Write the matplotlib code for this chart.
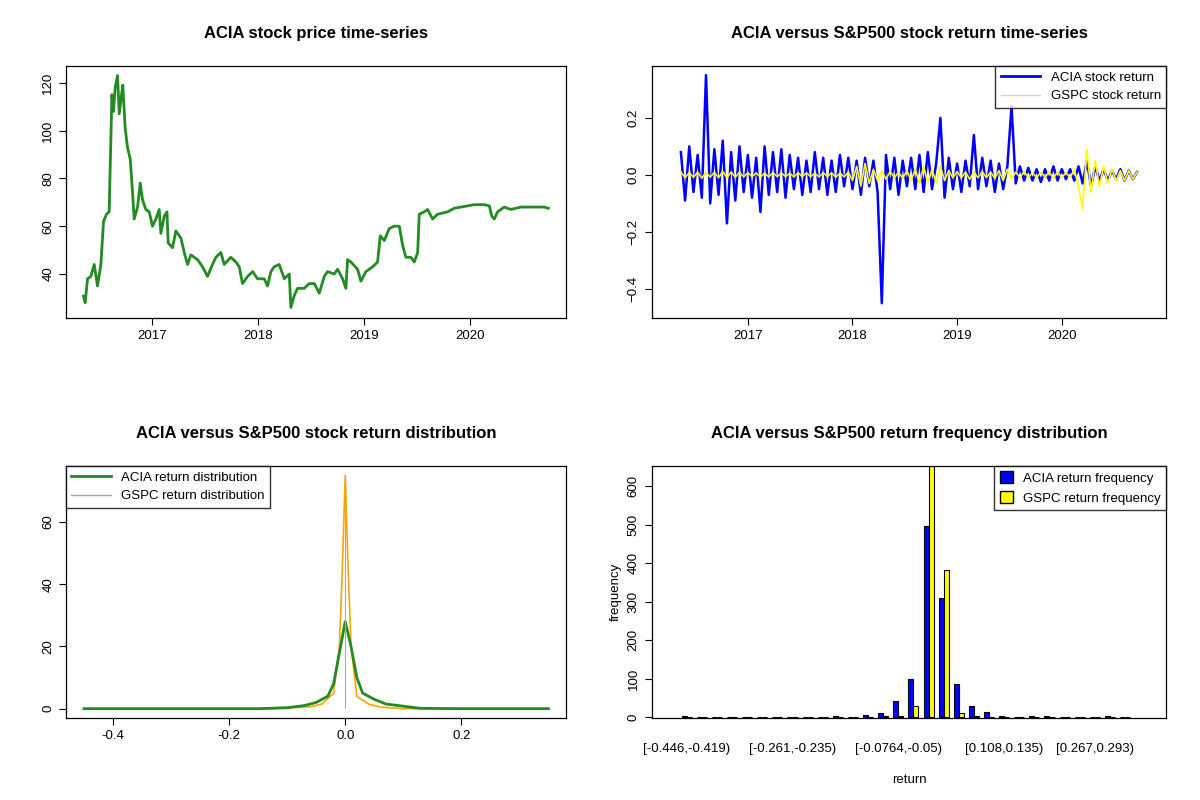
import numpy as np
import matplotlib
matplotlib.use("Agg")
import matplotlib.pyplot as plt
from matplotlib.lines import Line2D
from matplotlib.patches import Patch

plt.rcParams["font.family"] = ["Liberation Sans", "DejaVu Sans"]

# ---- price series (decimal year, price) ----
price_t = [2016.355, 2016.371, 2016.393, 2016.424, 2016.456, 2016.487, 2016.519, 2016.544,
           2016.572, 2016.597, 2016.613, 2016.623, 2016.638, 2016.654, 2016.676, 2016.692,
           2016.714, 2016.726, 2016.748, 2016.770, 2016.796, 2016.818, 2016.833, 2016.865,
           2016.890, 2016.912, 2016.943, 2016.975, 2017.006, 2017.038, 2017.069, 2017.085,
           2017.116, 2017.142, 2017.154, 2017.195, 2017.226, 2017.274, 2017.311, 2017.337,
           2017.368, 2017.431, 2017.478, 2017.525, 2017.572, 2017.604, 2017.651, 2017.682,
           2017.745, 2017.793, 2017.824, 2017.855, 2017.903, 2017.950, 2017.997, 2018.060,
           2018.091, 2018.123, 2018.154, 2018.201, 2018.249, 2018.296, 2018.311, 2018.343,
           2018.374, 2018.437, 2018.484, 2018.532, 2018.579, 2018.626, 2018.657, 2018.720,
           2018.752, 2018.799, 2018.830, 2018.846, 2018.878, 2018.940, 2018.972, 2019.019,
           2019.082, 2019.129, 2019.154, 2019.192, 2019.239, 2019.286, 2019.334, 2019.365,
           2019.396, 2019.444, 2019.475, 2019.507, 2019.522, 2019.569, 2019.601, 2019.648,
           2019.695, 2019.790, 2019.852, 2019.915, 2020.041, 2020.136, 2020.183, 2020.208,
           2020.230, 2020.261, 2020.324, 2020.387, 2020.481, 2020.607, 2020.702, 2020.739]
price_v = [30.7, 28, 38, 39, 44, 35, 44, 62, 65, 66, 96, 115, 108, 118, 123, 107,
           115, 119, 101, 93, 88, 74, 63, 68, 78, 71, 67, 66, 60, 63, 67, 57,
           64, 66, 53, 51, 58, 55, 48, 44, 48, 46, 43, 39, 44, 47, 49, 44,
           47, 45, 43, 36, 39, 41, 38, 38, 35, 41, 43, 44, 38, 40, 26, 31,
           34, 34, 36, 36, 32, 39, 41, 40, 42, 38, 34, 46, 45, 42, 37, 41,
           43, 45, 56, 54, 59, 60, 60, 52, 47, 47, 45, 49, 65, 66, 67, 63,
           65, 66, 67.5, 68, 69, 69, 68.5, 64, 63, 66, 68, 67, 68, 68, 68, 67.5]

# ---- returns, sampled about every two weeks from 2016.36 ----
ret_start, ret_step = 2016.36, 0.04
acia_ret = [0.08, -0.09, 0.1, -0.06, 0.07, -0.08, 0.35, -0.1, 0.09, -0.07,
            0.12, -0.17, 0.08, -0.09, 0.1, -0.06, 0.07, -0.08, 0.06, -0.13,
            0.1, -0.07, 0.08, -0.06, 0.09, -0.08, 0.07, -0.05, 0.06, -0.07,
            0.05, -0.06, 0.08, -0.05, 0.06, -0.07, 0.05, -0.06, 0.07, -0.04,
            0.06, -0.05, 0.05, -0.07, 0.06, -0.04, 0.05, -0.06, -0.45, 0.07,
            -0.05, 0.06, -0.07, 0.05, -0.04, 0.06, -0.05, 0.07, -0.06, 0.08,
            -0.05, 0.04, 0.2, -0.08, 0.06, -0.05, 0.04, -0.06, 0.05, -0.04,
            0.14, -0.05, 0.06, -0.04, 0.05, -0.06, 0.04, -0.05, 0.03, 0.24,
            -0.03, 0.03, -0.02, 0.025, -0.02, 0.02, -0.025, 0.02, -0.02, 0.03,
            -0.02, 0.02, -0.015, 0.02, -0.02, 0.03, -0.03, 0.05, -0.04, 0.03,
            -0.02, 0.02, -0.02, 0.015, -0.015, 0.02, -0.02, 0.015, -0.015, 0.01]
gspc_ret = [0.01, -0.01, 0.008, -0.009, 0.01, -0.012, 0.01, -0.008, 0.009, -0.01,
            0.012, -0.01, 0.01, -0.008, 0.009, -0.007, 0.008, -0.006, 0.007, -0.008,
            0.006, -0.007, 0.008, -0.006, 0.007, -0.006, 0.006, -0.007, 0.008, -0.006,
            0.007, -0.006, 0.006, -0.007, 0.008, -0.006, 0.007, -0.008, 0.006, -0.007,
            0.01, -0.02, 0.03, -0.04, 0.04, -0.03, 0.02, -0.02, 0.015, -0.015,
            0.012, -0.01, 0.01, -0.012, 0.015, -0.02, 0.02, -0.03, 0.03, -0.03,
            0.02, -0.03, 0.03, -0.02, 0.015, -0.01, 0.012, -0.01, 0.01, -0.015,
            0.01, -0.01, 0.012, -0.01, 0.01, -0.012, 0.015, -0.02, 0.02, -0.015,
            0.01, -0.01, 0.012, -0.01, 0.008, -0.01, 0.01, -0.008, 0.01, -0.012,
            0.01, -0.01, 0.008, -0.01, 0.02, -0.04, -0.12, 0.09, -0.06, 0.05,
            -0.04, 0.03, -0.03, 0.02, -0.02, 0.015, -0.02, 0.015, -0.015, 0.01]

# ---- densities ----
acia_dx = [-0.45, -0.15, -0.1, -0.07, -0.05, -0.03, -0.02, -0.01, 0, 0.01, 0.02, 0.03, 0.05, 0.07, 0.1, 0.13, 0.2, 0.35]
acia_dy = [0, 0, 0.3, 1, 2, 4, 8, 18, 28, 20, 10, 5, 3, 1.5, 0.8, 0.1, 0, 0]
gspc_dx = [-0.45, -0.13, -0.1, -0.06, -0.04, -0.02, -0.01, -0.005, 0, 0.005, 0.01, 0.02, 0.04, 0.06, 0.1, 0.35]
gspc_dy = [0, 0, 0.3, 0.6, 1.5, 5, 20, 45, 75, 45, 20, 4, 1.5, 0.5, 0, 0]

# ---- histogram counts over 30 bins ----
acia_freq = [2, 0, 0, 0, 0, 0, 0, 0, 0, 0, 2, 0, 5, 10, 42, 100, 495, 308, 85, 28,
             13, 3, 0, 3, 2, 0, 0, 0, 2, 0]
gspc_freq = [0, 0, 0, 0, 0, 0, 0, 0, 0, 0, 0, 0, 0, 2, 3, 28, 700, 383, 10, 2,
             0, 0, 0, 0, 0, 0, 0, 0, 0, 0]
hist_tick_bins = [0, 7, 14, 21, 27]
hist_tick_labels = ["[-0.446,-0.419)", "[-0.261,-0.235)", "[-0.0764,-0.05)",
                    "[0.108,0.135)", "[0.267,0.293)"]

fig = plt.figure(figsize=(12, 8), dpi=100)
ax1 = fig.add_axes([0.055, 0.6025, 0.417, 0.315])
ax2 = fig.add_axes([0.543, 0.6025, 0.429, 0.315])
ax3 = fig.add_axes([0.055, 0.1025, 0.417, 0.315])
ax4 = fig.add_axes([0.543, 0.1025, 0.429, 0.315])


def rstyle(ax):
    ax.tick_params(direction="out", labelsize=9.5, length=5)
    for lab in ax.get_yticklabels():
        lab.set_rotation(90)
        lab.set_va("center")
    for s in ax.spines.values():
        s.set_linewidth(0.9)


# panel 1
ax1.plot(price_t, price_v, color="forestgreen", lw=2)
ax1.set_xlim(2016.19, 2020.91)
ax1.set_ylim(21.6, 127)
ax1.set_xticks([2017, 2018, 2019, 2020])
ax1.set_yticks([40, 60, 80, 100, 120])
ax1.set_title("ACIA stock price time-series", fontweight="bold", fontsize=12, pad=20)
rstyle(ax1)

# panel 2
ret_t = ret_start + ret_step * np.arange(len(acia_ret))
ax2.plot(ret_t, acia_ret, color="blue", lw=1.8)
ax2.plot(ret_t, gspc_ret, color="yellow", lw=1.2)
ax2.set_xlim(2016.08, 2021.0)
ax2.set_ylim(-0.502, 0.382)
ax2.set_xticks([2017, 2018, 2019, 2020])
ax2.set_yticks([-0.4, -0.2, 0.0, 0.2])
ax2.set_title("ACIA versus S&P500 stock return time-series", fontweight="bold", fontsize=12, pad=20)
ax2.legend([Line2D([], [], color="blue", lw=2), Line2D([], [], color="lightgrey", lw=1)],
           ["ACIA stock return", "GSPC stock return"], loc="upper right", fancybox=False,
           edgecolor="black", fontsize=9.5, borderaxespad=0, handlelength=3)
rstyle(ax2)

# panel 3
ax3.plot(gspc_dx, gspc_dy, color="orange", lw=1.2)
ax3.plot(acia_dx, acia_dy, color="forestgreen", lw=2)
ax3.axvline(0, ymin=0.04, ymax=0.96, color="darkgrey", lw=0.8)
ax3.set_xlim(-0.481, 0.381)
ax3.set_ylim(-3, 78)
ax3.set_xticks([-0.4, -0.2, 0.0, 0.2])
ax3.set_xticklabels(["-0.4", "-0.2", "0.0", "0.2"])
ax3.set_yticks([0, 20, 40, 60])
ax3.set_title("ACIA versus S&P500 stock return distribution", fontweight="bold", fontsize=12, pad=20)
ax3.legend([Line2D([], [], color="forestgreen", lw=2), Line2D([], [], color="darkgrey", lw=1)],
           ["ACIA return distribution", "GSPC return distribution"], loc="upper left", fancybox=False,
           edgecolor="black", fontsize=9.5, borderaxespad=0, handlelength=3)
rstyle(ax3)

# panel 4
idx = np.arange(len(acia_freq))
centers = 2 + 3 * idx
ax4.bar(centers - 0.5, acia_freq, width=1, color="blue", edgecolor="black", lw=0.8)
ax4.bar(centers + 0.5, gspc_freq, width=1, color="yellow", edgecolor="black", lw=0.8)
ax4.set_xlim(-4.96, 97.2)
ax4.set_ylim(-2.6, 652)
ax4.set_xticks(centers[hist_tick_bins])
ax4.set_xticklabels(hist_tick_labels)
ax4.set_yticks([0, 100, 200, 300, 400, 500, 600])
ax4.set_xlabel("return", fontsize=9.5, labelpad=14)
ax4.set_ylabel("frequency", fontsize=9.5)
ax4.set_title("ACIA versus S&P500 return frequency distribution", fontweight="bold", fontsize=12, pad=20)
ax4.legend([Patch(facecolor="blue", edgecolor="black"), Patch(facecolor="yellow", edgecolor="black")],
           ["ACIA return frequency", "GSPC return frequency"], loc="upper right", fancybox=False,
           edgecolor="black", fontsize=9.5, borderaxespad=0, handlelength=1, handleheight=1)
rstyle(ax4)
ax4.tick_params(axis="x", length=0, pad=18)

fig.savefig("out.png", dpi=100)
